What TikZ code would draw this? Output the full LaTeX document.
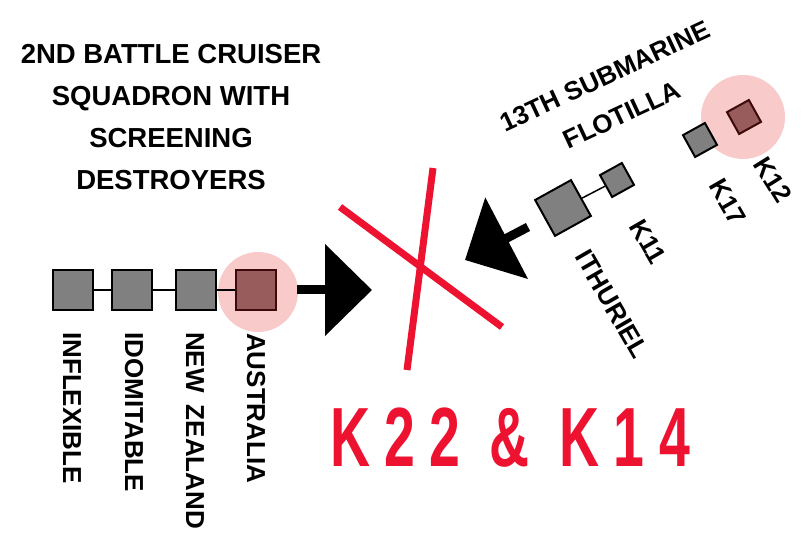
\documentclass[tikz,border=0pt]{standalone}
\usepackage{fontspec}
\setmainfont{Liberation Sans}
\newfontfamily\bigfont[FakeStretch=0.66,LetterSpace=17]{Liberation Sans}
\usepackage{xcolor}
\usetikzlibrary{arrows.meta}
\definecolor{shipgray}{RGB}{128,128,128}
\definecolor{hitbrown}{RGB}{152,92,92}
\definecolor{hitedge}{RGB}{60,10,10}
\definecolor{halo}{RGB}{248,202,202}
\definecolor{sunkred}{RGB}{236,18,48}
\tikzset{
  ship/.style={draw, line width=2.2pt, fill=shipgray, minimum size=40pt, inner sep=0pt},
  sub/.style={draw, line width=2pt, fill=shipgray, minimum size=25pt, inner sep=0pt, rotate=29},
  hit/.style={fill=hitbrown, draw=hitedge},
  shipname/.style={font=\fontsize{26}{30}\selectfont\bfseries, inner sep=0pt},
  fleet/.style={line width=9pt, -{Triangle[length=47pt, width=90pt]}},
  cross/.style={color=sunkred, line width=7pt},
}
\begin{document}
\begin{tikzpicture}[x=1pt, y=-1pt]
\useasboundingbox (0,0) rectangle (805,534);

\node[align=center, font=\fontsize{27.5}{42}\selectfont\bfseries] (title) at (171,117)
  {2ND BATTLE CRUISER\\SQUADRON WITH\\SCREENING\\DESTROYERS};

\fill[halo] (258,292) circle[radius=40pt];
\fill[halo] (743,117) circle[radius=42pt];

\node[ship] (inflexible) at (73,290) {};
\node[ship] (idomitable) at (132,290) {};
\node[ship] (newzealand) at (196,290) {};
\node[ship, hit] (australia) at (256,290) {};
\draw[line width=1.5pt] (inflexible) -- (idomitable);
\draw[line width=1.5pt] (idomitable) -- (newzealand);
\draw[line width=1.5pt] (newzealand) -- (australia);

\node[shipname, rotate=-90, anchor=west] (l1) at (72,332) {INFLEXIBLE};
\node[shipname, rotate=-90, anchor=west] (l2) at (134,332) {IDOMITABLE};
\node[shipname, rotate=-90, anchor=west] (l3) at (195,332) {NEW\hspace{12pt}ZEALAND};
\node[shipname, rotate=-90, anchor=west] (l4) at (256,333) {AUSTRALIA};

\node[sub, minimum size=41pt] (ithuriel) at (563,208) {};
\node[sub] (k11) at (617,180) {};
\node[sub] (k17) at (700,140) {};
\node[sub, hit] (k12) at (744,117) {};
\draw[line width=1.5pt] (ithuriel) -- (k11);

\node[shipname, rotate=25] (flotilla1) at (605,76) {13TH SUBMARINE};
\node[shipname, rotate=25] (flotilla2) at (622,115) {FLOTILLA};
\node[shipname, rotate=-60] (l5) at (612,304) {ITHURIEL};
\node[shipname, rotate=-60] (l6) at (648,242) {K11};
\node[shipname, rotate=-60] (l7) at (728,202) {K17};
\node[shipname, rotate=-58] (l8) at (773,180) {K12};

\coordinate (bcstart) at (297,290);
\coordinate (bctip) at (372,290);
\coordinate (substart) at (528,227);
\coordinate (subtip) at (465,260);
\draw[fleet] (bcstart) -- (bctip);
\draw[fleet] (substart) -- (subtip);

\draw[cross] (340,207) -- (502,327);
\draw[cross] (433,168) -- (407,370);

\node[color=sunkred, font=\fontsize{84}{90}\bigfont\bfseries, inner sep=0pt] (sunk) at (510,438) {K22 \& K14};
\end{tikzpicture}
\end{document}
